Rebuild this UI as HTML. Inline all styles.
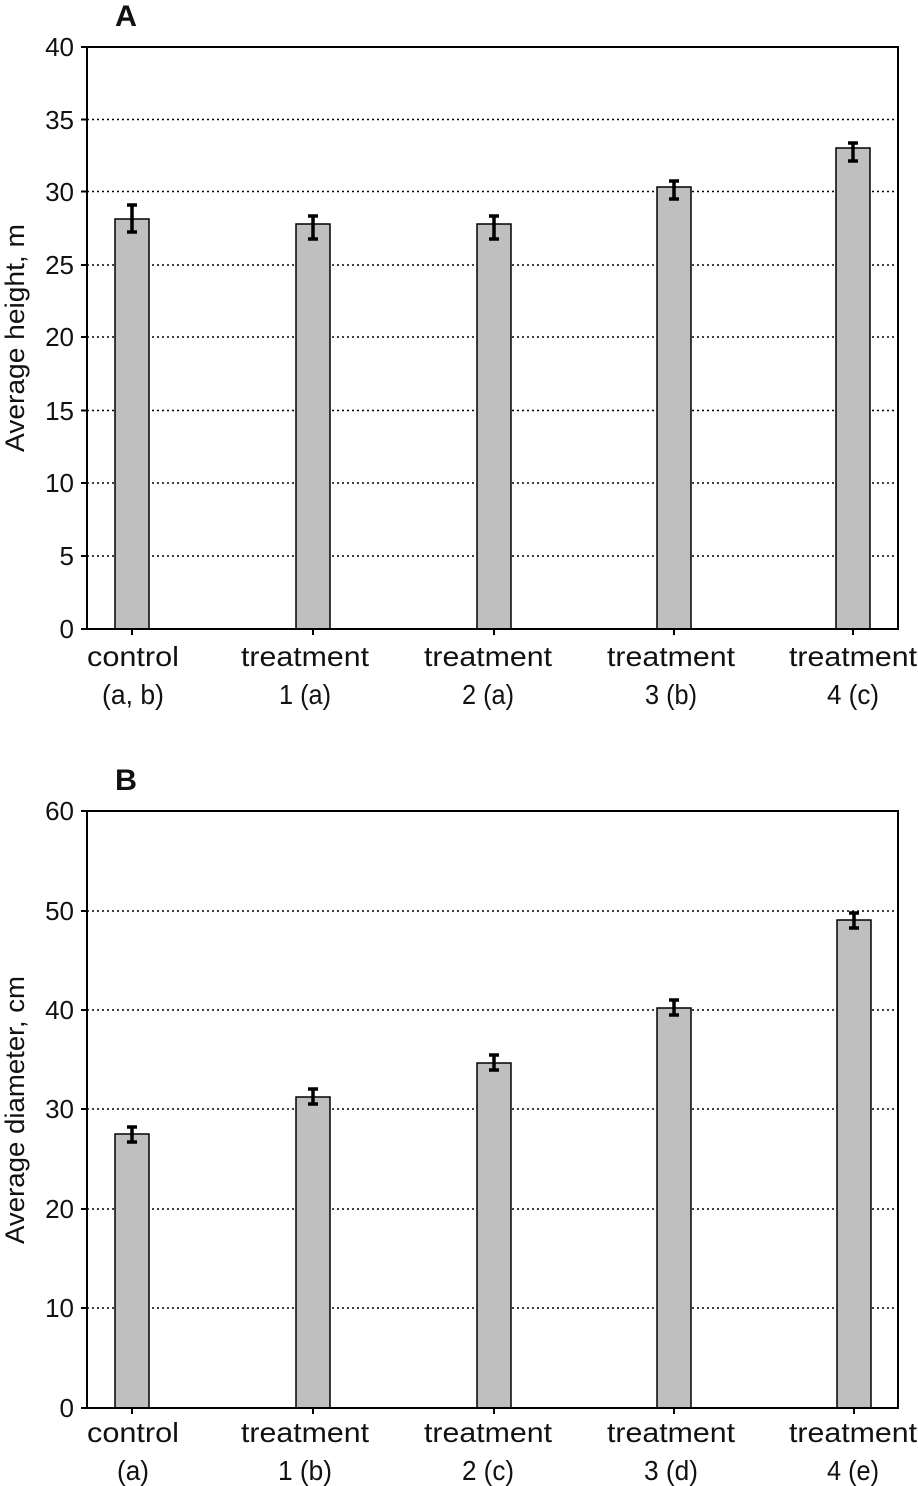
<!DOCTYPE html>
<html><head><meta charset="utf-8"><style>
html,body{margin:0;padding:0;background:#fff;}
svg{display:block;}
text{font-family:"Liberation Sans",sans-serif;fill:#111;}
</style></head><body>
<svg width="918" height="1486" viewBox="0 0 918 1486" xmlns="http://www.w3.org/2000/svg">
<!-- Chart A -->
<text x="115" y="26" font-size="30" font-weight="bold" textLength="22" lengthAdjust="spacingAndGlyphs">A</text>
<g stroke="#000" stroke-width="1.5" stroke-dasharray="2,3">
<line x1="87" y1="119.5" x2="898" y2="119.5"/>
<line x1="87" y1="191.5" x2="898" y2="191.5"/>
<line x1="87" y1="265" x2="898" y2="265"/>
<line x1="87" y1="337" x2="898" y2="337"/>
<line x1="87" y1="410.5" x2="898" y2="410.5"/>
<line x1="87" y1="483" x2="898" y2="483"/>
<line x1="87" y1="556" x2="898" y2="556"/>
</g>
<g fill="#bfbfbf" stroke="#000" stroke-width="1.5">
<rect x="115" y="219" width="34" height="410"/>
<rect x="296" y="224" width="34" height="405"/>
<rect x="477" y="224" width="34" height="405"/>
<rect x="657" y="187" width="34" height="442"/>
<rect x="836" y="148" width="34" height="481"/>
</g>
<rect x="87" y="47" width="811" height="582" fill="none" stroke="#000" stroke-width="2"/>
<g stroke="#000" stroke-width="2">
<line x1="81" y1="47" x2="87" y2="47"/><line x1="81" y1="119.5" x2="87" y2="119.5"/><line x1="81" y1="191.5" x2="87" y2="191.5"/><line x1="81" y1="265" x2="87" y2="265"/><line x1="81" y1="337" x2="87" y2="337"/><line x1="81" y1="410.5" x2="87" y2="410.5"/><line x1="81" y1="483" x2="87" y2="483"/><line x1="81" y1="556" x2="87" y2="556"/><line x1="81" y1="629" x2="87" y2="629"/>
<line x1="132" y1="629" x2="132" y2="635"/><line x1="313" y1="629" x2="313" y2="635"/><line x1="494" y1="629" x2="494" y2="635"/><line x1="674" y1="629" x2="674" y2="635"/><line x1="853" y1="629" x2="853" y2="635"/>
</g>
<g stroke="#000" stroke-width="3.5">
<path d="M132 205V232M127 205H137M127 232H137"/>
<path d="M313 216V239M308 216H318M308 239H318"/>
<path d="M494 216V239M489 216H499M489 239H499"/>
<path d="M674 181V199M669 181H679M669 199H679"/>
<path d="M853 143V161M848 143H858M848 161H858"/>
</g>
<g font-size="26" text-anchor="end">
<text x="74" y="56">40</text><text x="74" y="129">35</text><text x="74" y="201">30</text><text x="74" y="274">25</text><text x="74" y="346">20</text><text x="74" y="420">15</text><text x="74" y="492">10</text><text x="74" y="565">5</text><text x="74" y="638">0</text>
</g>
<text transform="translate(24,338) rotate(-90)" font-size="27" text-anchor="middle" textLength="228" lengthAdjust="spacingAndGlyphs">Average height, m</text>
<g font-size="28" text-anchor="middle">
<text x="133" y="666" textLength="92" lengthAdjust="spacingAndGlyphs">control</text>
<text x="133" y="704" textLength="62" lengthAdjust="spacingAndGlyphs">(a, b)</text>
<text x="305" y="666" textLength="128" lengthAdjust="spacingAndGlyphs">treatment</text>
<text x="305" y="704" textLength="52" lengthAdjust="spacingAndGlyphs">1 (a)</text>
<text x="488" y="666" textLength="128" lengthAdjust="spacingAndGlyphs">treatment</text>
<text x="488" y="704" textLength="52" lengthAdjust="spacingAndGlyphs">2 (a)</text>
<text x="671" y="666" textLength="128" lengthAdjust="spacingAndGlyphs">treatment</text>
<text x="671" y="704" textLength="52" lengthAdjust="spacingAndGlyphs">3 (b)</text>
<text x="853" y="666" textLength="128" lengthAdjust="spacingAndGlyphs">treatment</text>
<text x="853" y="704" textLength="52" lengthAdjust="spacingAndGlyphs">4 (c)</text>
</g>

<!-- Chart B -->
<text x="115" y="790" font-size="30" font-weight="bold" textLength="22" lengthAdjust="spacingAndGlyphs">B</text>
<g stroke="#000" stroke-width="1.5" stroke-dasharray="2,3">
<line x1="87" y1="911" x2="898" y2="911"/>
<line x1="87" y1="1010" x2="898" y2="1010"/>
<line x1="87" y1="1109" x2="898" y2="1109"/>
<line x1="87" y1="1209" x2="898" y2="1209"/>
<line x1="87" y1="1308" x2="898" y2="1308"/>
</g>
<g fill="#bfbfbf" stroke="#000" stroke-width="1.5">
<rect x="115" y="1134" width="34" height="274"/>
<rect x="296" y="1097" width="34" height="311"/>
<rect x="477" y="1063" width="34" height="345"/>
<rect x="657" y="1008" width="34" height="400"/>
<rect x="837" y="920" width="34" height="488"/>
</g>
<rect x="87" y="811" width="811" height="597" fill="none" stroke="#000" stroke-width="2"/>
<g stroke="#000" stroke-width="2">
<line x1="81" y1="811" x2="87" y2="811"/><line x1="81" y1="911" x2="87" y2="911"/><line x1="81" y1="1010" x2="87" y2="1010"/><line x1="81" y1="1109" x2="87" y2="1109"/><line x1="81" y1="1209" x2="87" y2="1209"/><line x1="81" y1="1308" x2="87" y2="1308"/><line x1="81" y1="1408" x2="87" y2="1408"/>
<line x1="132" y1="1408" x2="132" y2="1414"/><line x1="313" y1="1408" x2="313" y2="1414"/><line x1="494" y1="1408" x2="494" y2="1414"/><line x1="674" y1="1408" x2="674" y2="1414"/><line x1="854" y1="1408" x2="854" y2="1414"/>
</g>
<g stroke="#000" stroke-width="3.5">
<path d="M132 1127V1142M127 1127H137M127 1142H137"/>
<path d="M313 1089V1104M308 1089H318M308 1104H318"/>
<path d="M494 1055V1070M489 1055H499M489 1070H499"/>
<path d="M674 1000V1015M669 1000H679M669 1015H679"/>
<path d="M854 913V928M849 913H859M849 928H859"/>
</g>
<g font-size="26" text-anchor="end">
<text x="74" y="820">60</text><text x="74" y="920">50</text><text x="74" y="1019">40</text><text x="74" y="1118">30</text><text x="74" y="1218">20</text><text x="74" y="1317">10</text><text x="74" y="1417">0</text>
</g>
<text transform="translate(24,1110) rotate(-90)" font-size="27" text-anchor="middle" textLength="268" lengthAdjust="spacingAndGlyphs">Average diameter, cm</text>
<g font-size="28" text-anchor="middle">
<text x="133" y="1442" textLength="92" lengthAdjust="spacingAndGlyphs">control</text>
<text x="133" y="1480" textLength="32" lengthAdjust="spacingAndGlyphs">(a)</text>
<text x="305" y="1442" textLength="128" lengthAdjust="spacingAndGlyphs">treatment</text>
<text x="305" y="1480" textLength="54" lengthAdjust="spacingAndGlyphs">1 (b)</text>
<text x="488" y="1442" textLength="128" lengthAdjust="spacingAndGlyphs">treatment</text>
<text x="488" y="1480" textLength="52" lengthAdjust="spacingAndGlyphs">2 (c)</text>
<text x="671" y="1442" textLength="128" lengthAdjust="spacingAndGlyphs">treatment</text>
<text x="671" y="1480" textLength="54" lengthAdjust="spacingAndGlyphs">3 (d)</text>
<text x="853" y="1442" textLength="128" lengthAdjust="spacingAndGlyphs">treatment</text>
<text x="853" y="1480" textLength="52" lengthAdjust="spacingAndGlyphs">4 (e)</text>
</g>
</svg>
</body></html>
